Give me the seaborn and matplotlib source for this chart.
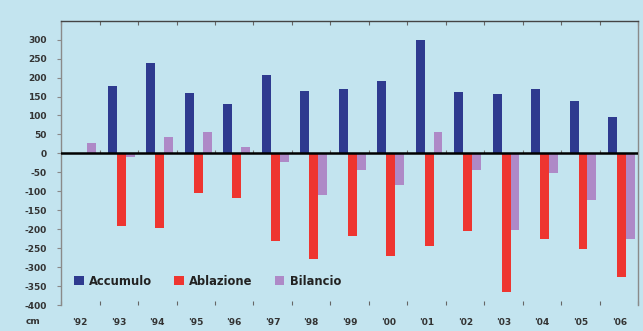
import numpy as np
import pandas as pd
import matplotlib
matplotlib.use("Agg")
import matplotlib.pyplot as plt
import seaborn as sns

anni = ["'92", "'93", "'94", "'95", "'96", "'97", "'98", "'99",
        "'00", "'01", "'02", "'03", "'04", "'05", "'06"]
accumulo = [np.nan, 178, 238, 158, 131, 206, 164, 171, 191, 298, 163, 156, 171, 137, 97]
ablazione = [np.nan, -191, -198, -104, -118, -231, -278, -218, -272, -245, -204, -366, -225, -251, -325]
bilancio = [28, -10, 43, 57, 17, -24, -111, -44, -83, 56, -44, -203, -51, -124, -225]
serie = ["Accumulo", "Ablazione", "Bilancio"]
colori = ["#2E3A8F", "#EE3530", "#AE89C7"]
yticks = list(range(-400, 301, 50))

rows = []
for nome, vals in zip(serie, [accumulo, ablazione, bilancio]):
    for a, v in zip(anni, vals):
        rows.append({"anno": a, "voce": nome, "cm": v})
df = pd.DataFrame(rows)

bg = "#C3E4EF"
sns.set_theme(style="white")
plt.rcParams["font.family"] = ["DejaVu Sans"]

fig = plt.figure(figsize=(6.43, 3.31), dpi=100, facecolor=bg)
ax = fig.add_axes([0.0949, 0.0785, 0.898, 0.859])
ax.set_facecolor(bg)

sns.barplot(data=df, x="anno", y="cm", hue="voce", hue_order=serie,
            order=anni, palette=colori, width=0.7, saturation=1,
            errorbar=None, linewidth=0, ax=ax)

shift = 0.06
n = len(anni)
ax.set_xlim(-0.5 - shift, n - 0.5 - shift)
ax.set_ylim(-400, 350)

# boundaries ticks
bounds = [k - 0.5 - shift for k in range(n + 1)]
ax.set_xticks(bounds)
ax.set_xticklabels([""] * len(bounds))
ax.set_xticks([i - shift for i in range(n)], minor=True)
ax.set_xticklabels(anni, minor=True, fontsize=6.5, fontweight="bold", color="#333333")
ax.tick_params(axis="x", which="major", direction="in", length=3, width=0.8,
               color="#666666", top=True, bottom=True)
ax.tick_params(axis="x", which="minor", length=0, pad=9.5)
ax.set_xlabel("")
ax.set_ylabel("")

ax.set_yticks(yticks)
ax.set_yticklabels([str(v) for v in yticks], fontsize=6.5, fontweight="bold", color="#333333")
ax.tick_params(axis="y", which="major", direction="out", length=3, width=0.8,
               color="#888888", left=True, pad=7.5)

for s in ["left", "right"]:
    ax.spines[s].set_color("#8A8A8A")
    ax.spines[s].set_linewidth(1.0)
ax.spines["top"].set_color("#444444")
ax.spines["top"].set_linewidth(1.0)
ax.spines["bottom"].set_visible(False)

ax.axhline(0, color="black", linewidth=1.8, zorder=5)
ax.vlines(bounds, 0, 8, color="#777777", linewidth=0.8, zorder=4)

leg = ax.legend(loc="lower left", bbox_to_anchor=(0.015, 0.045), ncol=3, frameon=False,
                handlelength=0.85, handleheight=0.85, handletextpad=0.45,
                columnspacing=1.9, borderaxespad=0,
                prop={"size": 8.3, "weight": "bold"})
for t in leg.get_texts():
    t.set_color("#222222")

fig.text(33 / 643, 1 - 322 / 331, "cm", fontsize=6.5, fontweight="bold",
         color="#333333", ha="center", va="center")

fig.savefig("out.png", dpi=100, facecolor=bg)
